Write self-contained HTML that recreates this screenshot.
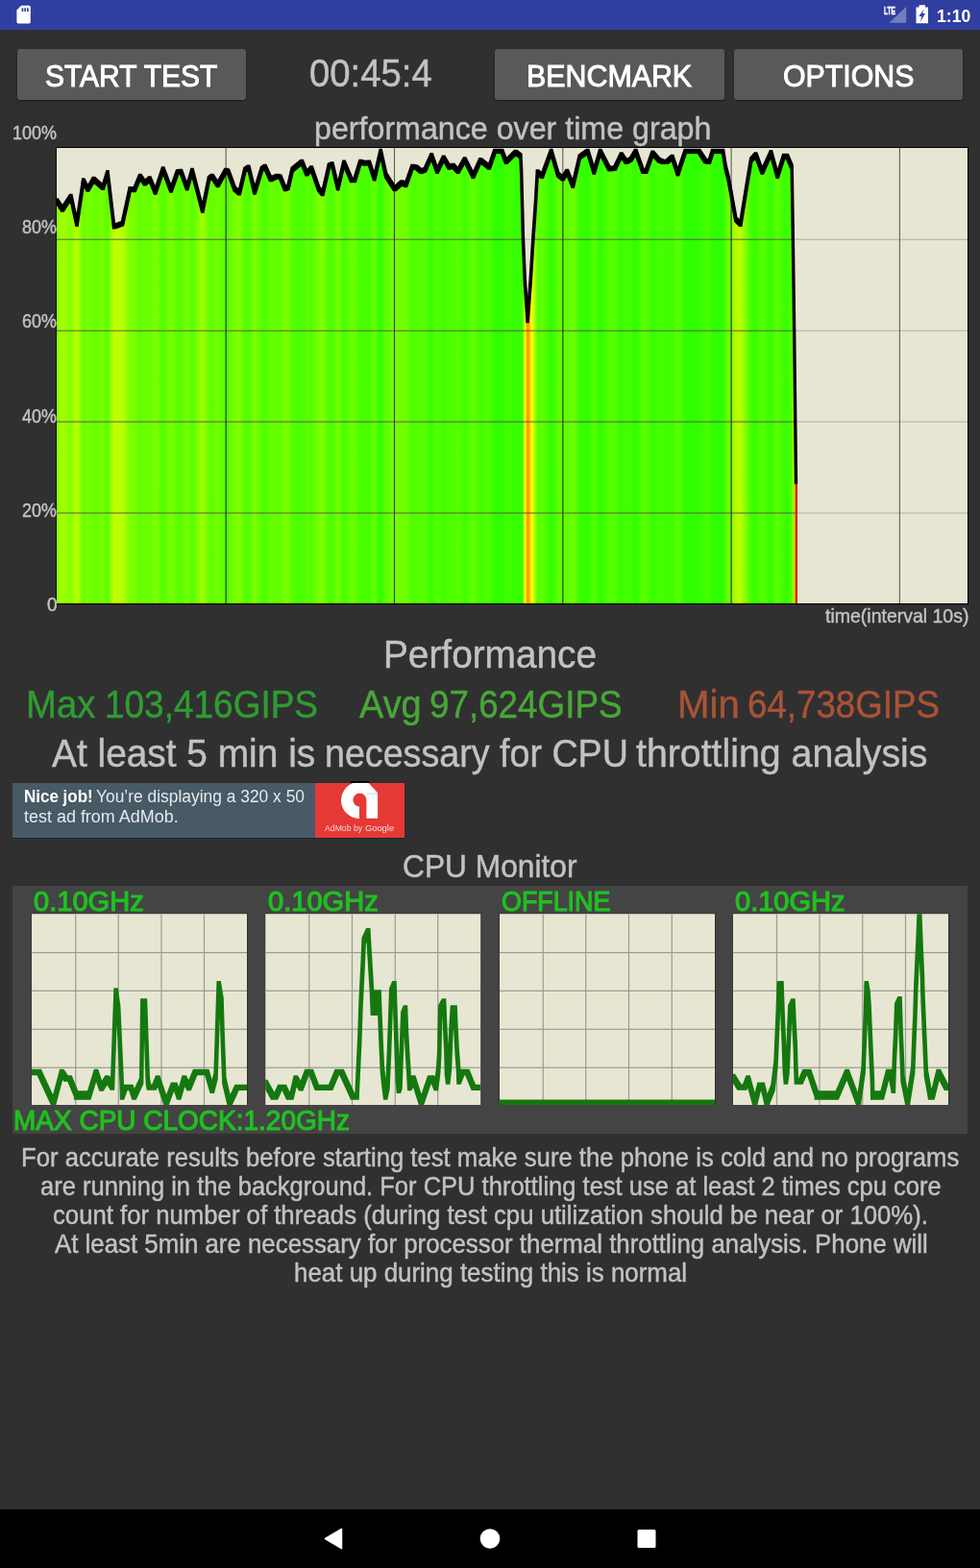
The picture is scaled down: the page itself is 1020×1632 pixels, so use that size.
<!DOCTYPE html>
<html lang="en"><head><meta charset="utf-8"><title>CPU Throttling Test</title>
<style>
html,body{margin:0;padding:0;}
body{width:1020px;height:1632px;background:#303030;position:relative;overflow:hidden;font-family:"Liberation Sans",sans-serif;}
.t{position:absolute;white-space:nowrap;line-height:1;transform-origin:0 0;}
.r{position:absolute;}
</style></head><body>
<div class="r" style="left:0px;top:0px;width:1020px;height:31px;background:#303f9f;"></div>
<svg class="r" style="left:17px;top:5px" width="16" height="21" viewBox="0 0 16 21"><path d="M5.2 0.8 H13 Q14.8 0.8 14.8 2.6 V17.8 Q14.8 19.6 13 19.6 H2.2 Q0.4 19.6 0.4 17.8 V5.6 Z" fill="#fff"/><rect x="5.6" y="3.3" width="1.7" height="3.8" fill="#303f9f"/><rect x="8.3" y="3.3" width="1.7" height="3.8" fill="#303f9f"/><rect x="11" y="3.3" width="1.7" height="3.8" fill="#303f9f"/></svg>
<svg class="r" style="left:918px;top:4px" width="30" height="22" viewBox="918 4 30 22"><path d="M943.2 7.1 V23.8 H925.4 Z" fill="#ffffff" fill-opacity="0.33"/></svg>
<div class="t" style="left:920.21px;top:5.73px;font-size:10.6px;color:#fff;transform:scaleX(0.6259);font-weight:700;-webkit-text-stroke:0.4px #fff;">LTE</div>
<svg class="r" style="left:950px;top:4px" width="20" height="22" viewBox="950 4 20 22"><path d="M956.6 5.3 H963 V7.6 H966 V24.2 H953.5 V7.6 H956.6 Z" fill="#fff"/><path d="M961.6 9.6 L956.4 17 H959.3 L958 22.8 L963 14 H960.2 Z" fill="#303f9f"/></svg>
<div class="t" style="left:974.73px;top:7.54px;font-size:18.5px;color:#fff;transform:scaleX(0.9532);font-weight:700;">1:10</div>
<div class="r" style="left:18px;top:51px;width:238.2px;height:53px;background:#5a595a;border-radius:3px;box-shadow:0 1px 2px rgba(0,0,0,.45);"></div>
<div class="t" style="left:47.41px;top:62.91px;font-size:32px;color:#fff;transform:scaleX(0.9362);-webkit-text-stroke:1.0px #fff;">START TEST</div>
<div class="r" style="left:515.1px;top:51px;width:238.5px;height:53px;background:#5a595a;border-radius:3px;box-shadow:0 1px 2px rgba(0,0,0,.45);"></div>
<div class="t" style="left:548.11px;top:62.91px;font-size:32px;color:#fff;transform:scaleX(0.9491);-webkit-text-stroke:1.0px #fff;">BENCMARK</div>
<div class="r" style="left:763.8px;top:51px;width:238.20000000000005px;height:53px;background:#5a595a;border-radius:3px;box-shadow:0 1px 2px rgba(0,0,0,.45);"></div>
<div class="t" style="left:815.08px;top:62.91px;font-size:32px;color:#fff;transform:scaleX(0.9475);-webkit-text-stroke:1.0px #fff;">OPTIONS</div>
<div class="t" style="left:322.17px;top:56.34px;font-size:40.0px;color:#c2c2c2;transform:scaleX(0.9566);-webkit-text-stroke:0.45px #c2c2c2;">00:45:4</div>
<div class="t" style="left:326.75px;top:117.03px;font-size:33.4px;color:#c2c2c2;transform:scaleX(0.9642);-webkit-text-stroke:0.45px #c2c2c2;">performance over time graph</div>
<svg class="r" style="left:0;top:0" width="1020" height="700" viewBox="0 0 1020 700"><defs><linearGradient id="pg" gradientUnits="userSpaceOnUse" x1="59" y1="0" x2="1007" y2="0"><stop offset="0.00021" stop-color="#8fff00"/><stop offset="0.00633" stop-color="#a0ff00"/><stop offset="0.01561" stop-color="#87ff00"/><stop offset="0.02215" stop-color="#bcff00"/><stop offset="0.02922" stop-color="#69ff00"/><stop offset="0.03418" stop-color="#7aff00"/><stop offset="0.04061" stop-color="#67ff00"/><stop offset="0.05084" stop-color="#77ff00"/><stop offset="0.05591" stop-color="#5aff00"/><stop offset="0.06287" stop-color="#c0ff00"/><stop offset="0.07226" stop-color="#baff00"/><stop offset="0.08049" stop-color="#79ff00"/><stop offset="0.08544" stop-color="#7bff00"/><stop offset="0.09156" stop-color="#61ff00"/><stop offset="0.09684" stop-color="#6eff00"/><stop offset="0.10211" stop-color="#65ff00"/><stop offset="0.10833" stop-color="#7fff00"/><stop offset="0.11677" stop-color="#53ff00"/><stop offset="0.12553" stop-color="#7bff00"/><stop offset="0.13259" stop-color="#59ff00"/><stop offset="0.13639" stop-color="#58ff00"/><stop offset="0.14314" stop-color="#77ff00"/><stop offset="0.14873" stop-color="#56ff00"/><stop offset="0.16013" stop-color="#a2ff00"/><stop offset="0.16719" stop-color="#65ff00"/><stop offset="0.17068" stop-color="#61ff00"/><stop offset="0.17690" stop-color="#71ff00"/><stop offset="0.18565" stop-color="#56ff00"/><stop offset="0.18829" stop-color="#58ff00"/><stop offset="0.19536" stop-color="#79ff00"/><stop offset="0.20063" stop-color="#81ff00"/><stop offset="0.20675" stop-color="#55ff00"/><stop offset="0.21076" stop-color="#50ff00"/><stop offset="0.21730" stop-color="#7fff00"/><stop offset="0.22521" stop-color="#53ff00"/><stop offset="0.22869" stop-color="#4fff00"/><stop offset="0.23492" stop-color="#67ff00"/><stop offset="0.24188" stop-color="#61ff00"/><stop offset="0.24546" stop-color="#62ff00"/><stop offset="0.25074" stop-color="#79ff00"/><stop offset="0.25422" stop-color="#76ff00"/><stop offset="0.25865" stop-color="#55ff00"/><stop offset="0.26920" stop-color="#45ff00"/><stop offset="0.27447" stop-color="#5cff00"/><stop offset="0.27975" stop-color="#52ff00"/><stop offset="0.28766" stop-color="#79ff00"/><stop offset="0.29198" stop-color="#82ff00"/><stop offset="0.29905" stop-color="#4dff00"/><stop offset="0.30253" stop-color="#4aff00"/><stop offset="0.30876" stop-color="#77ff00"/><stop offset="0.31540" stop-color="#47ff00"/><stop offset="0.32363" stop-color="#68ff00"/><stop offset="0.32722" stop-color="#68ff00"/><stop offset="0.33333" stop-color="#45ff00"/><stop offset="0.33861" stop-color="#49ff00"/><stop offset="0.34304" stop-color="#47ff00"/><stop offset="0.34884" stop-color="#65ff00"/><stop offset="0.35570" stop-color="#2fff00"/><stop offset="0.36150" stop-color="#5fff00"/><stop offset="0.37110" stop-color="#79ff00"/><stop offset="0.37901" stop-color="#6dff00"/><stop offset="0.38344" stop-color="#71ff00"/><stop offset="0.39051" stop-color="#4fff00"/><stop offset="0.39483" stop-color="#50ff00"/><stop offset="0.40011" stop-color="#58ff00"/><stop offset="0.40454" stop-color="#55ff00"/><stop offset="0.41160" stop-color="#39ff00"/><stop offset="0.41772" stop-color="#58ff00"/><stop offset="0.42479" stop-color="#3eff00"/><stop offset="0.43091" stop-color="#50ff00"/><stop offset="0.43534" stop-color="#4dff00"/><stop offset="0.44061" stop-color="#58ff00"/><stop offset="0.44800" stop-color="#41ff00"/><stop offset="0.45728" stop-color="#61ff00"/><stop offset="0.46519" stop-color="#43ff00"/><stop offset="0.47489" stop-color="#50ff00"/><stop offset="0.48101" stop-color="#2eff00"/><stop offset="0.48892" stop-color="#2eff00"/><stop offset="0.49335" stop-color="#45ff00"/><stop offset="0.50390" stop-color="#33ff00"/><stop offset="0.50939" stop-color="#3bff00"/><stop offset="0.51150" stop-color="#3eff00"/><stop offset="0.51424" stop-color="#ffff00"/><stop offset="0.51730" stop-color="#ff8c00"/><stop offset="0.52152" stop-color="#ffff00"/><stop offset="0.52426" stop-color="#c0ff00"/><stop offset="0.52774" stop-color="#59ff00"/><stop offset="0.53291" stop-color="#61ff00"/><stop offset="0.54293" stop-color="#2fff00"/><stop offset="0.55042" stop-color="#5eff00"/><stop offset="0.55570" stop-color="#65ff00"/><stop offset="0.56044" stop-color="#58ff00"/><stop offset="0.56677" stop-color="#73ff00"/><stop offset="0.57416" stop-color="#3cff00"/><stop offset="0.58302" stop-color="#2fff00"/><stop offset="0.58998" stop-color="#59ff00"/><stop offset="0.59673" stop-color="#2fff00"/><stop offset="0.60675" stop-color="#53ff00"/><stop offset="0.61287" stop-color="#52ff00"/><stop offset="0.61994" stop-color="#38ff00"/><stop offset="0.62521" stop-color="#45ff00"/><stop offset="0.63049" stop-color="#41ff00"/><stop offset="0.63576" stop-color="#2fff00"/><stop offset="0.64367" stop-color="#58ff00"/><stop offset="0.64715" stop-color="#58ff00"/><stop offset="0.65422" stop-color="#35ff00"/><stop offset="0.66118" stop-color="#43ff00"/><stop offset="0.66561" stop-color="#45ff00"/><stop offset="0.67004" stop-color="#45ff00"/><stop offset="0.67584" stop-color="#3cff00"/><stop offset="0.68196" stop-color="#5cff00"/><stop offset="0.69019" stop-color="#2fff00"/><stop offset="0.70517" stop-color="#2fff00"/><stop offset="0.71224" stop-color="#44ff00"/><stop offset="0.71656" stop-color="#45ff00"/><stop offset="0.72015" stop-color="#2fff00"/><stop offset="0.73154" stop-color="#2fff00"/><stop offset="0.73418" stop-color="#4fff00"/><stop offset="0.73766" stop-color="#67ff00"/><stop offset="0.74557" stop-color="#b2ff00"/><stop offset="0.75084" stop-color="#bcff00"/><stop offset="0.75707" stop-color="#79ff00"/><stop offset="0.76234" stop-color="#43ff00"/><stop offset="0.76762" stop-color="#38ff00"/><stop offset="0.77458" stop-color="#59ff00"/><stop offset="0.78428" stop-color="#34ff00"/><stop offset="0.79135" stop-color="#61ff00"/><stop offset="0.79831" stop-color="#3bff00"/><stop offset="0.80190" stop-color="#3bff00"/><stop offset="0.80717" stop-color="#50ff00"/><stop offset="0.80823" stop-color="#c5ff00"/><stop offset="0.80928" stop-color="#3eff00"/><stop offset="0.81013" stop-color="#ffff00"/><stop offset="0.81097" stop-color="#ff5a00"/><stop offset="0.81150" stop-color="#ee1410"/><stop offset="0.81329" stop-color="#ee1410"/></linearGradient><clipPath id="pc"><rect x="59" y="154" width="948" height="474"/></clipPath></defs><rect x="58.3" y="153.0" width="949.7" height="476.1" fill="#000"/><rect x="59" y="154" width="948" height="474" fill="#e7e6d2"/><g clip-path="url(#pc)"><path d="M59,628 L59,209 L59.2,209.0 L65.0,218.0 L73.8,204.5 L80.0,233.3 L86.7,188.0 L91.4,197.2 L97.5,186.5 L107.2,195.4 L112.0,179.6 L118.6,235.9 L127.5,232.6 L135.3,196.7 L140.0,197.5 L145.8,183.3 L150.8,190.8 L155.8,185.8 L161.7,200.0 L169.7,175.8 L178.0,198.0 L184.7,179.0 L188.3,178.3 L194.7,195.8 L200.0,177.5 L210.8,219.2 L217.5,185.8 L220.8,183.3 L226.7,192.5 L235.0,177.5 L237.5,178.3 L244.2,196.7 L249.2,200.8 L255.0,176.7 L258.8,174.2 L265.0,200.0 L272.5,175.8 L275.8,173.3 L281.7,186.7 L288.3,183.3 L291.7,184.2 L296.7,196.7 L300.0,195.0 L304.2,176.7 L314.2,168.3 L319.2,180.8 L324.2,175.0 L331.7,196.7 L335.8,201.7 L342.5,172.5 L345.8,170.8 L351.7,195.8 L358.0,169.2 L365.8,187.5 L369.2,187.5 L375.0,168.3 L380.0,170.0 L384.2,169.2 L389.7,185.8 L396.2,155.8 L401.7,182.5 L410.8,196.7 L418.3,190.0 L422.5,192.5 L429.2,173.3 L433.3,174.2 L438.3,178.3 L442.5,176.7 L449.2,161.7 L455.0,178.3 L461.7,164.2 L467.5,174.2 L471.7,172.5 L476.7,178.3 L483.7,165.8 L492.5,183.3 L500.0,166.7 L509.2,174.2 L515.0,155.5 L522.5,155.5 L526.7,168.3 L536.7,158.3 L541.9,162.5 L542.7,180.0 L544.5,250.0 L546.3,293.0 L549.1,333.6 L552.2,293.0 L554.8,250.0 L557.5,211.0 L559.3,179.0 L564.2,183.3 L573.7,155.8 L580.8,181.7 L585.8,185.8 L590.3,178.3 L596.3,193.3 L603.3,163.3 L611.7,155.8 L618.3,179.2 L624.7,155.8 L634.2,175.8 L640.0,175.0 L646.7,160.8 L651.7,168.3 L656.7,165.8 L661.7,155.8 L669.2,178.3 L672.5,178.3 L679.2,159.2 L685.8,166.7 L690.0,168.3 L694.2,168.3 L699.7,163.3 L705.5,180.8 L713.3,155.8 L727.5,155.8 L734.2,167.5 L738.3,168.3 L741.7,155.8 L752.5,155.8 L755.0,173.3 L758.3,186.7 L765.8,228.3 L770.8,233.3 L776.7,196.7 L781.7,166.7 L786.7,160.8 L793.3,179.2 L802.5,158.7 L809.2,183.3 L815.8,162.5 L819.2,162.5 L824.2,174.2 L825.2,238.3 L826.7,350.0 L828.5,501.0 L830,503.5 L830,628 Z" fill="url(#pg)"/><clipPath id="pa"><path d="M59,628 L59,209 L59.2,209.0 L65.0,218.0 L73.8,204.5 L80.0,233.3 L86.7,188.0 L91.4,197.2 L97.5,186.5 L107.2,195.4 L112.0,179.6 L118.6,235.9 L127.5,232.6 L135.3,196.7 L140.0,197.5 L145.8,183.3 L150.8,190.8 L155.8,185.8 L161.7,200.0 L169.7,175.8 L178.0,198.0 L184.7,179.0 L188.3,178.3 L194.7,195.8 L200.0,177.5 L210.8,219.2 L217.5,185.8 L220.8,183.3 L226.7,192.5 L235.0,177.5 L237.5,178.3 L244.2,196.7 L249.2,200.8 L255.0,176.7 L258.8,174.2 L265.0,200.0 L272.5,175.8 L275.8,173.3 L281.7,186.7 L288.3,183.3 L291.7,184.2 L296.7,196.7 L300.0,195.0 L304.2,176.7 L314.2,168.3 L319.2,180.8 L324.2,175.0 L331.7,196.7 L335.8,201.7 L342.5,172.5 L345.8,170.8 L351.7,195.8 L358.0,169.2 L365.8,187.5 L369.2,187.5 L375.0,168.3 L380.0,170.0 L384.2,169.2 L389.7,185.8 L396.2,155.8 L401.7,182.5 L410.8,196.7 L418.3,190.0 L422.5,192.5 L429.2,173.3 L433.3,174.2 L438.3,178.3 L442.5,176.7 L449.2,161.7 L455.0,178.3 L461.7,164.2 L467.5,174.2 L471.7,172.5 L476.7,178.3 L483.7,165.8 L492.5,183.3 L500.0,166.7 L509.2,174.2 L515.0,155.5 L522.5,155.5 L526.7,168.3 L536.7,158.3 L541.9,162.5 L542.7,180.0 L544.5,250.0 L546.3,293.0 L549.1,333.6 L552.2,293.0 L554.8,250.0 L557.5,211.0 L559.3,179.0 L564.2,183.3 L573.7,155.8 L580.8,181.7 L585.8,185.8 L590.3,178.3 L596.3,193.3 L603.3,163.3 L611.7,155.8 L618.3,179.2 L624.7,155.8 L634.2,175.8 L640.0,175.0 L646.7,160.8 L651.7,168.3 L656.7,165.8 L661.7,155.8 L669.2,178.3 L672.5,178.3 L679.2,159.2 L685.8,166.7 L690.0,168.3 L694.2,168.3 L699.7,163.3 L705.5,180.8 L713.3,155.8 L727.5,155.8 L734.2,167.5 L738.3,168.3 L741.7,155.8 L752.5,155.8 L755.0,173.3 L758.3,186.7 L765.8,228.3 L770.8,233.3 L776.7,196.7 L781.7,166.7 L786.7,160.8 L793.3,179.2 L802.5,158.7 L809.2,183.3 L815.8,162.5 L819.2,162.5 L824.2,174.2 L825.2,238.3 L826.7,350.0 L828.5,501.0 L830,503.5 L830,628 Z"/></clipPath><rect x="59" y="248.65" width="948" height="1.3" fill="#808080" fill-opacity="0.42"/><rect x="59" y="343.65000000000003" width="948" height="1.3" fill="#808080" fill-opacity="0.42"/><rect x="59" y="438.35" width="948" height="1.3" fill="#808080" fill-opacity="0.42"/><rect x="59" y="533.35" width="948" height="1.3" fill="#808080" fill-opacity="0.42"/><rect x="234.64999999999998" y="154" width="1.1" height="474" fill="#303030" fill-opacity="0.74"/><rect x="409.95" y="154" width="1.1" height="474" fill="#303030" fill-opacity="0.74"/><rect x="585.25" y="154" width="1.1" height="474" fill="#303030" fill-opacity="0.74"/><rect x="760.5500000000001" y="154" width="1.1" height="474" fill="#303030" fill-opacity="0.74"/><rect x="935.85" y="154" width="1.1" height="474" fill="#303030" fill-opacity="0.74"/><g clip-path="url(#pa)"><rect x="59" y="248.65" width="948" height="1.3" fill="#4a3a40" fill-opacity="0.45"/><rect x="59" y="343.65000000000003" width="948" height="1.3" fill="#4a3a40" fill-opacity="0.45"/><rect x="59" y="438.35" width="948" height="1.3" fill="#4a3a40" fill-opacity="0.45"/><rect x="59" y="533.35" width="948" height="1.3" fill="#4a3a40" fill-opacity="0.45"/><rect x="234.64999999999998" y="154" width="1.1" height="474" fill="#303030" fill-opacity="0.5"/><rect x="409.95" y="154" width="1.1" height="474" fill="#303030" fill-opacity="0.5"/><rect x="585.25" y="154" width="1.1" height="474" fill="#303030" fill-opacity="0.5"/><rect x="760.5500000000001" y="154" width="1.1" height="474" fill="#303030" fill-opacity="0.5"/><rect x="935.85" y="154" width="1.1" height="474" fill="#303030" fill-opacity="0.5"/></g><path d="M57.55,206.35 60.85,206.35 66.65,215.35 66.65,220.65 63.35,220.65 57.55,211.65ZM63.35,215.35 72.15,201.85 75.45,201.85 75.45,207.15 66.65,220.65 63.35,220.65ZM72.15,201.85 75.45,201.85 81.65,230.65 81.65,235.95 78.35,235.95 72.15,207.15ZM78.35,230.65 85.05,185.35 88.35,185.35 88.35,190.65 81.65,235.95 78.35,235.95ZM85.05,185.35 88.35,185.35 93.05,194.55 93.05,199.85 89.75,199.85 85.05,190.65ZM89.75,194.55 95.85,183.85 99.15,183.85 99.15,189.15 93.05,199.85 89.75,199.85ZM95.85,183.85 99.15,183.85 108.85,192.75 108.85,198.05 105.55,198.05 95.85,189.15ZM105.55,192.75 110.35,176.95 113.65,176.95 113.65,182.25 108.85,198.05 105.55,198.05ZM110.35,176.95 113.65,176.95 120.25,233.25 120.25,238.55 116.95,238.55 110.35,182.25ZM116.95,233.25 125.85,229.95 129.15,229.95 129.15,235.25 120.25,238.55 116.95,238.55ZM125.85,229.95 133.65,194.05 136.95,194.05 136.95,199.35 129.15,235.25 125.85,235.25ZM133.65,194.05 136.95,194.05 141.65,194.85 141.65,200.15 138.35,200.15 133.65,199.35ZM138.35,194.85 144.15,180.65 147.45,180.65 147.45,185.95 141.65,200.15 138.35,200.15ZM144.15,180.65 147.45,180.65 152.45,188.15 152.45,193.45 149.15,193.45 144.15,185.95ZM149.15,188.15 154.15,183.15 157.45,183.15 157.45,188.45 152.45,193.45 149.15,193.45ZM154.15,183.15 157.45,183.15 163.35,197.35 163.35,202.65 160.05,202.65 154.15,188.45ZM160.05,197.35 168.05,173.15 171.35,173.15 171.35,178.45 163.35,202.65 160.05,202.65ZM168.05,173.15 171.35,173.15 179.65,195.35 179.65,200.65 176.35,200.65 168.05,178.45ZM176.35,195.35 183.05,176.35 186.35,176.35 186.35,181.65 179.65,200.65 176.35,200.65ZM183.05,176.35 186.65,175.65 189.95,175.65 189.95,180.95 186.35,181.65 183.05,181.65ZM186.65,175.65 189.95,175.65 196.35,193.15 196.35,198.45 193.05,198.45 186.65,180.95ZM193.05,193.15 198.35,174.85 201.65,174.85 201.65,180.15 196.35,198.45 193.05,198.45ZM198.35,174.85 201.65,174.85 212.45,216.55 212.45,221.85 209.15,221.85 198.35,180.15ZM209.15,216.55 215.85,183.15 219.15,183.15 219.15,188.45 212.45,221.85 209.15,221.85ZM215.85,183.15 219.15,180.65 222.45,180.65 222.45,185.95 219.15,188.45 215.85,188.45ZM219.15,180.65 222.45,180.65 228.35,189.85 228.35,195.15 225.05,195.15 219.15,185.95ZM225.05,189.85 233.35,174.85 236.65,174.85 236.65,180.15 228.35,195.15 225.05,195.15ZM233.35,174.85 236.65,174.85 239.15,175.65 239.15,180.95 235.85,180.95 233.35,180.15ZM235.85,175.65 239.15,175.65 245.85,194.05 245.85,199.35 242.55,199.35 235.85,180.95ZM242.55,194.05 245.85,194.05 250.85,198.15 250.85,203.45 247.55,203.45 242.55,199.35ZM247.55,198.15 253.35,174.05 256.65,174.05 256.65,179.35 250.85,203.45 247.55,203.45ZM253.35,174.05 257.15,171.55 260.45,171.55 260.45,176.85 256.65,179.35 253.35,179.35ZM257.15,171.55 260.45,171.55 266.65,197.35 266.65,202.65 263.35,202.65 257.15,176.85ZM263.35,197.35 270.85,173.15 274.15,173.15 274.15,178.45 266.65,202.65 263.35,202.65ZM270.85,173.15 274.15,170.65 277.45,170.65 277.45,175.95 274.15,178.45 270.85,178.45ZM274.15,170.65 277.45,170.65 283.35,184.05 283.35,189.35 280.05,189.35 274.15,175.95ZM280.05,184.05 286.65,180.65 289.95,180.65 289.95,185.95 283.35,189.35 280.05,189.35ZM286.65,180.65 289.95,180.65 293.35,181.55 293.35,186.85 290.05,186.85 286.65,185.95ZM290.05,181.55 293.35,181.55 298.35,194.05 298.35,199.35 295.05,199.35 290.05,186.85ZM295.05,194.05 298.35,192.35 301.65,192.35 301.65,197.65 298.35,199.35 295.05,199.35ZM298.35,192.35 302.55,174.05 305.85,174.05 305.85,179.35 301.65,197.65 298.35,197.65ZM302.55,174.05 312.55,165.65 315.85,165.65 315.85,170.95 305.85,179.35 302.55,179.35ZM312.55,165.65 315.85,165.65 320.85,178.15 320.85,183.45 317.55,183.45 312.55,170.95ZM317.55,178.15 322.55,172.35 325.85,172.35 325.85,177.65 320.85,183.45 317.55,183.45ZM322.55,172.35 325.85,172.35 333.35,194.05 333.35,199.35 330.05,199.35 322.55,177.65ZM330.05,194.05 333.35,194.05 337.45,199.05 337.45,204.35 334.15,204.35 330.05,199.35ZM334.15,199.05 340.85,169.85 344.15,169.85 344.15,175.15 337.45,204.35 334.15,204.35ZM340.85,169.85 344.15,168.15 347.45,168.15 347.45,173.45 344.15,175.15 340.85,175.15ZM344.15,168.15 347.45,168.15 353.35,193.15 353.35,198.45 350.05,198.45 344.15,173.45ZM350.05,193.15 356.35,166.55 359.65,166.55 359.65,171.85 353.35,198.45 350.05,198.45ZM356.35,166.55 359.65,166.55 367.45,184.85 367.45,190.15 364.15,190.15 356.35,171.85ZM364.15,184.85 370.85,184.85 370.85,190.15 364.15,190.15ZM367.55,184.85 373.35,165.65 376.65,165.65 376.65,170.95 370.85,190.15 367.55,190.15ZM373.35,165.65 376.65,165.65 381.65,167.35 381.65,172.65 378.35,172.65 373.35,170.95ZM378.35,167.35 382.55,166.55 385.85,166.55 385.85,171.85 381.65,172.65 378.35,172.65ZM382.55,166.55 385.85,166.55 391.35,183.15 391.35,188.45 388.05,188.45 382.55,171.85ZM388.05,183.15 394.55,154.65 397.85,154.65 397.85,159.95 391.35,188.45 388.05,188.45ZM394.55,154.65 397.85,154.65 403.35,179.85 403.35,185.15 400.05,185.15 394.55,159.95ZM400.05,179.85 403.35,179.85 412.45,194.05 412.45,199.35 409.15,199.35 400.05,185.15ZM409.15,194.05 416.65,187.35 419.95,187.35 419.95,192.65 412.45,199.35 409.15,199.35ZM416.65,187.35 419.95,187.35 424.15,189.85 424.15,195.15 420.85,195.15 416.65,192.65ZM420.85,189.85 427.55,170.65 430.85,170.65 430.85,175.95 424.15,195.15 420.85,195.15ZM427.55,170.65 430.85,170.65 434.95,171.55 434.95,176.85 431.65,176.85 427.55,175.95ZM431.65,171.55 434.95,171.55 439.95,175.65 439.95,180.95 436.65,180.95 431.65,176.85ZM436.65,175.65 440.85,174.05 444.15,174.05 444.15,179.35 439.95,180.95 436.65,180.95ZM440.85,174.05 447.55,159.05 450.85,159.05 450.85,164.35 444.15,179.35 440.85,179.35ZM447.55,159.05 450.85,159.05 456.65,175.65 456.65,180.95 453.35,180.95 447.55,164.35ZM453.35,175.65 460.05,161.55 463.35,161.55 463.35,166.85 456.65,180.95 453.35,180.95ZM460.05,161.55 463.35,161.55 469.15,171.55 469.15,176.85 465.85,176.85 460.05,166.85ZM465.85,171.55 470.05,169.85 473.35,169.85 473.35,175.15 469.15,176.85 465.85,176.85ZM470.05,169.85 473.35,169.85 478.35,175.65 478.35,180.95 475.05,180.95 470.05,175.15ZM475.05,175.65 482.05,163.15 485.35,163.15 485.35,168.45 478.35,180.95 475.05,180.95ZM482.05,163.15 485.35,163.15 494.15,180.65 494.15,185.95 490.85,185.95 482.05,168.45ZM490.85,180.65 498.35,164.05 501.65,164.05 501.65,169.35 494.15,185.95 490.85,185.95ZM498.35,164.05 501.65,164.05 510.85,171.55 510.85,176.85 507.55,176.85 498.35,169.35ZM507.55,171.55 513.35,154.65 516.65,154.65 516.65,159.95 510.85,176.85 507.55,176.85ZM513.35,154.65 524.15,154.65 524.15,159.95 513.35,159.95ZM520.85,154.65 524.15,154.65 528.35,165.65 528.35,170.95 525.05,170.95 520.85,159.95ZM525.05,165.65 535.05,155.65 538.35,155.65 538.35,160.95 528.35,170.95 525.05,170.95ZM535.05,155.65 538.35,155.65 543.55,159.85 543.55,165.15 540.25,165.15 535.05,160.95ZM540.25,159.85 543.55,159.85 544.35,177.35 544.35,182.65 541.05,182.65 540.25,165.15ZM541.05,177.35 544.35,177.35 546.15,247.35 546.15,252.65 542.85,252.65 541.05,182.65ZM542.85,247.35 546.15,247.35 547.95,290.35 547.95,295.65 544.65,295.65 542.85,252.65ZM544.65,290.35 547.95,290.35 550.75,330.95 550.75,336.25 547.45,336.25 544.65,295.65ZM547.45,330.95 550.55,290.35 553.85,290.35 553.85,295.65 550.75,336.25 547.45,336.25ZM550.55,290.35 553.15,247.35 556.45,247.35 556.45,252.65 553.85,295.65 550.55,295.65ZM553.15,247.35 555.85,208.35 559.15,208.35 559.15,213.65 556.45,252.65 553.15,252.65ZM555.85,208.35 557.65,176.35 560.95,176.35 560.95,181.65 559.15,213.65 555.85,213.65ZM557.65,176.35 560.95,176.35 565.85,180.65 565.85,185.95 562.55,185.95 557.65,181.65ZM562.55,180.65 572.05,154.65 575.35,154.65 575.35,159.95 565.85,185.95 562.55,185.95ZM572.05,154.65 575.35,154.65 582.45,179.05 582.45,184.35 579.15,184.35 572.05,159.95ZM579.15,179.05 582.45,179.05 587.45,183.15 587.45,188.45 584.15,188.45 579.15,184.35ZM584.15,183.15 588.65,175.65 591.95,175.65 591.95,180.95 587.45,188.45 584.15,188.45ZM588.65,175.65 591.95,175.65 597.95,190.65 597.95,195.95 594.65,195.95 588.65,180.95ZM594.65,190.65 601.65,160.65 604.95,160.65 604.95,165.95 597.95,195.95 594.65,195.95ZM601.65,160.65 610.05,154.65 613.35,154.65 613.35,159.95 604.95,165.95 601.65,165.95ZM610.05,154.65 613.35,154.65 619.95,176.55 619.95,181.85 616.65,181.85 610.05,159.95ZM616.65,176.55 623.05,154.65 626.35,154.65 626.35,159.95 619.95,181.85 616.65,181.85ZM623.05,154.65 626.35,154.65 635.85,173.15 635.85,178.45 632.55,178.45 623.05,159.95ZM632.55,173.15 638.35,172.35 641.65,172.35 641.65,177.65 635.85,178.45 632.55,178.45ZM638.35,172.35 645.05,158.15 648.35,158.15 648.35,163.45 641.65,177.65 638.35,177.65ZM645.05,158.15 648.35,158.15 653.35,165.65 653.35,170.95 650.05,170.95 645.05,163.45ZM650.05,165.65 655.05,163.15 658.35,163.15 658.35,168.45 653.35,170.95 650.05,170.95ZM655.05,163.15 660.05,154.65 663.35,154.65 663.35,159.95 658.35,168.45 655.05,168.45ZM660.05,154.65 663.35,154.65 670.85,175.65 670.85,180.95 667.55,180.95 660.05,159.95ZM667.55,175.65 674.15,175.65 674.15,180.95 667.55,180.95ZM670.85,175.65 677.55,156.55 680.85,156.55 680.85,161.85 674.15,180.95 670.85,180.95ZM677.55,156.55 680.85,156.55 687.45,164.05 687.45,169.35 684.15,169.35 677.55,161.85ZM684.15,164.05 687.45,164.05 691.65,165.65 691.65,170.95 688.35,170.95 684.15,169.35ZM688.35,165.65 695.85,165.65 695.85,170.95 688.35,170.95ZM692.55,165.65 698.05,160.65 701.35,160.65 701.35,165.95 695.85,170.95 692.55,170.95ZM698.05,160.65 701.35,160.65 707.15,178.15 707.15,183.45 703.85,183.45 698.05,165.95ZM703.85,178.15 711.65,154.65 714.95,154.65 714.95,159.95 707.15,183.45 703.85,183.45ZM711.65,154.65 729.15,154.65 729.15,159.95 711.65,159.95ZM725.85,154.65 729.15,154.65 735.85,164.85 735.85,170.15 732.55,170.15 725.85,159.95ZM732.55,164.85 735.85,164.85 739.95,165.65 739.95,170.95 736.65,170.95 732.55,170.15ZM736.65,165.65 740.05,154.65 743.35,154.65 743.35,159.95 739.95,170.95 736.65,170.95ZM740.05,154.65 754.15,154.65 754.15,159.95 740.05,159.95ZM750.85,154.65 754.15,154.65 756.65,170.65 756.65,175.95 753.35,175.95 750.85,159.95ZM753.35,170.65 756.65,170.65 759.95,184.05 759.95,189.35 756.65,189.35 753.35,175.95ZM756.65,184.05 759.95,184.05 767.45,225.65 767.45,230.95 764.15,230.95 756.65,189.35ZM764.15,225.65 767.45,225.65 772.45,230.65 772.45,235.95 769.15,235.95 764.15,230.95ZM769.15,230.65 775.05,194.05 778.35,194.05 778.35,199.35 772.45,235.95 769.15,235.95ZM775.05,194.05 780.05,164.05 783.35,164.05 783.35,169.35 778.35,199.35 775.05,199.35ZM780.05,164.05 785.05,158.15 788.35,158.15 788.35,163.45 783.35,169.35 780.05,169.35ZM785.05,158.15 788.35,158.15 794.95,176.55 794.95,181.85 791.65,181.85 785.05,163.45ZM791.65,176.55 800.85,156.05 804.15,156.05 804.15,161.35 794.95,181.85 791.65,181.85ZM800.85,156.05 804.15,156.05 810.85,180.65 810.85,185.95 807.55,185.95 800.85,161.35ZM807.55,180.65 814.15,159.85 817.45,159.85 817.45,165.15 810.85,185.95 807.55,185.95ZM814.15,159.85 820.85,159.85 820.85,165.15 814.15,165.15ZM817.55,159.85 820.85,159.85 825.85,171.55 825.85,176.85 822.55,176.85 817.55,165.15ZM822.55,171.55 825.85,171.55 826.85,235.65 826.85,240.95 823.55,240.95 822.55,176.85ZM823.55,235.65 826.85,235.65 828.35,347.35 828.35,352.65 825.05,352.65 823.55,240.95ZM825.05,347.35 828.35,347.35 830.15,498.35 830.15,503.65 826.85,503.65 825.05,352.65Z" fill="#000"/></g></svg>
<div class="t" style="left:13.32px;top:127.55px;font-size:20.5px;color:#c2c2c2;transform:scaleX(0.8750);-webkit-text-stroke:0.45px #c2c2c2;">100%</div>
<div class="t" style="left:23.38px;top:226.05px;font-size:20.5px;color:#c2c2c2;transform:scaleX(0.8750);-webkit-text-stroke:0.45px #c2c2c2;">80%</div>
<div class="t" style="left:23.38px;top:324.45px;font-size:20.5px;color:#c2c2c2;transform:scaleX(0.8750);-webkit-text-stroke:0.45px #c2c2c2;">60%</div>
<div class="t" style="left:23.38px;top:422.75px;font-size:20.5px;color:#c2c2c2;transform:scaleX(0.8750);-webkit-text-stroke:0.45px #c2c2c2;">40%</div>
<div class="t" style="left:23.38px;top:521.05px;font-size:20.5px;color:#c2c2c2;transform:scaleX(0.8750);-webkit-text-stroke:0.45px #c2c2c2;">20%</div>
<div class="t" style="left:48.60px;top:618.95px;font-size:20.5px;color:#c2c2c2;transform:scaleX(0.9316);-webkit-text-stroke:0.45px #c2c2c2;">0</div>
<div class="t" style="left:858.56px;top:631.16px;font-size:20.6px;color:#c2c2c2;transform:scaleX(0.9462);-webkit-text-stroke:0.45px #c2c2c2;">time(interval 10s)</div>
<div class="t" style="left:398.65px;top:661.06px;font-size:40.1px;color:#c2c2c2;transform:scaleX(0.9677);-webkit-text-stroke:0.45px #c2c2c2;">Performance</div>
<div class="t" style="left:27.00px;top:712.96px;font-size:40.1px;color:#2f9c33;transform:scaleX(0.9553);-webkit-text-stroke:0.45px #2f9c33;">Max</div>
<div class="t" style="left:109.43px;top:712.96px;font-size:40.1px;color:#2f9c33;transform:scaleX(0.9224);-webkit-text-stroke:0.45px #2f9c33;">103,416GIPS</div>
<div class="t" style="left:374.30px;top:712.96px;font-size:40.1px;color:#49a738;transform:scaleX(0.9472);-webkit-text-stroke:0.45px #49a738;">Avg</div>
<div class="t" style="left:446.58px;top:712.96px;font-size:40.1px;color:#49a738;transform:scaleX(0.9181);-webkit-text-stroke:0.45px #49a738;">97,624GIPS</div>
<div class="t" style="left:704.54px;top:712.96px;font-size:40.1px;color:#a95336;transform:scaleX(1.0038);-webkit-text-stroke:0.45px #a95336;">Min</div>
<div class="t" style="left:778.17px;top:712.96px;font-size:40.1px;color:#a95336;transform:scaleX(0.9154);-webkit-text-stroke:0.45px #a95336;">64,738GIPS</div>
<div class="t" style="left:53.80px;top:763.96px;font-size:40.1px;color:#c2c2c2;transform:scaleX(0.9693);-webkit-text-stroke:0.45px #c2c2c2;">At least 5 min is</div>
<div class="t" style="left:337.83px;top:763.96px;font-size:40.1px;color:#c2c2c2;transform:scaleX(0.9392);-webkit-text-stroke:0.45px #c2c2c2;">necessary for CPU</div>
<div class="t" style="left:661.81px;top:763.96px;font-size:40.1px;color:#c2c2c2;transform:scaleX(0.9801);-webkit-text-stroke:0.45px #c2c2c2;">throttling analysis</div>
<div class="r" style="left:12.7px;top:814.6px;width:408.6px;height:58.4px;background:#0c2a2e;"></div>
<div class="r" style="left:12.7px;top:814.6px;width:315px;height:57.9px;background:#475a66;"></div>
<div class="r" style="left:327.7px;top:814.6px;width:93.1px;height:57.9px;background:#e53935;"></div>
<div class="t" style="left:24.59px;top:818.65px;font-size:19.2px;color:#fff;transform:scaleX(0.8856);font-weight:700;">Nice job!</div>
<div class="t" style="left:99.66px;top:818.65px;font-size:19.2px;color:#e6e9ec;transform:scaleX(0.9067);-webkit-text-stroke:0;">You’re displaying a 320 x 50</div>
<div class="t" style="left:24.77px;top:839.65px;font-size:19.2px;color:#e6e9ec;transform:scaleX(0.9357);-webkit-text-stroke:0;">test ad from AdMob.</div>
<svg class="r" style="left:327px;top:813px" width="95" height="61" viewBox="327 813 95 61"><path d="M374,851.9 A19,19 0 0 1 374,813.9 H382.8 L393.1,825.2 V851.7 H381.4 V832.6 A7,7 0 0 0 367.4,832.6 A7,7 0 0 0 374,839.6 V851.9 Z" fill="#fff"/><rect x="365" y="813" width="19.5" height="1.9" fill="#000"/><rect x="327" y="813" width="38" height="1.6" fill="#303030"/><rect x="384.5" y="813" width="38" height="1.6" fill="#303030"/><rect x="381.6" y="825.3" width="11.4" height="1.6" fill="#d5dadd" fill-opacity=".8"/></svg>
<div class="t" style="left:338.00px;top:857.27px;font-size:9.6px;color:#f9d3d2;transform:scaleX(0.9061);">AdMob by</div>
<div class="t" style="left:380.04px;top:857.27px;font-size:9.6px;color:#fbe0df;transform:scaleX(0.9719);">Google</div>
<div class="t" style="left:419.33px;top:885.75px;font-size:32.9px;color:#c2c2c2;transform:scaleX(0.9639);-webkit-text-stroke:0.45px #c2c2c2;">CPU Monitor</div>
<div class="r" style="left:13px;top:922px;width:994px;height:258px;background:#444444;"></div>
<svg class="r" style="left:0;top:900px" width="1020" height="300" viewBox="0 900 1020 300"><clipPath id="mc1"><rect x="33" y="951.2" width="224" height="198.79999999999995"/></clipPath><rect x="32.5" y="950.6" width="225.4" height="199.39999999999995" fill="#2e2e34"/><rect x="33" y="951.2" width="224" height="198.79999999999995" fill="#e7e6d2"/><g clip-path="url(#mc1)"><rect x="78.15" y="951.2" width="1.2" height="198.79999999999995" fill="#9a9a9a"/><rect x="122.65" y="951.2" width="1.2" height="198.79999999999995" fill="#9a9a9a"/><rect x="167.4" y="951.2" width="1.2" height="198.79999999999995" fill="#9a9a9a"/><rect x="211.9" y="951.2" width="1.2" height="198.79999999999995" fill="#9a9a9a"/><rect x="33" y="990.9" width="224" height="1.2" fill="#9a9a9a"/><rect x="33" y="1030.7" width="224" height="1.2" fill="#9a9a9a"/><rect x="33" y="1070.7" width="224" height="1.2" fill="#9a9a9a"/><rect x="33" y="1110.6000000000001" width="224" height="1.2" fill="#9a9a9a"/><path d="M30.8,1112.85 42.9,1112.85 42.9,1119.15 30.8,1119.15ZM38.5,1112.85 42.9,1112.85 57.9,1145.35 57.9,1151.65 53.5,1151.65 38.5,1119.15ZM53.5,1145.35 62.1,1112.85 66.5,1112.85 66.5,1119.15 57.9,1151.65 53.5,1151.65ZM62.1,1112.85 66.5,1112.85 70.8,1119.35 70.8,1125.65 66.4,1125.65 62.1,1119.15ZM66.4,1119.35 74.7,1119.35 74.7,1125.65 66.4,1125.65ZM70.3,1119.35 74.7,1119.35 81.3,1135.35 81.3,1141.65 76.9,1141.65 70.3,1125.65ZM76.9,1135.35 94.5,1135.35 94.5,1141.65 76.9,1141.65ZM90.1,1135.35 94.5,1135.35 94.5,1144.65 90.1,1144.65ZM76.9,1138.35 94.5,1138.35 94.5,1144.65 76.9,1144.65ZM76.9,1138.35 94.5,1138.35 94.5,1144.65 76.9,1144.65ZM90.1,1138.35 97.8,1112.85 102.2,1112.85 102.2,1119.15 94.5,1144.65 90.1,1144.65ZM97.8,1112.85 102.2,1112.85 107.7,1129.35 107.7,1135.65 103.3,1135.65 97.8,1119.15ZM103.3,1129.35 109.3,1119.35 113.7,1119.35 113.7,1125.65 107.7,1135.65 103.3,1135.65ZM109.3,1119.35 113.7,1119.35 119.2,1128.45 119.2,1134.75 114.8,1134.75 109.3,1125.65ZM114.8,1128.45 118.37,1028.25 122.77,1028.25 122.77,1034.55 119.2,1134.75 114.8,1134.75ZM118.37,1028.25 122.77,1028.25 125.4,1046.85 125.4,1053.15 121,1053.15 118.37,1034.55ZM121,1046.85 125.4,1046.85 128.8,1121.85 128.8,1128.15 124.4,1128.15 121,1053.15ZM124.4,1121.85 128.8,1121.85 129.2,1138.35 129.2,1144.65 124.8,1144.65 124.4,1128.15ZM124.8,1138.35 128.3,1128.75 132.7,1128.75 132.7,1135.05 129.2,1144.65 124.8,1144.65ZM128.3,1128.75 138.5,1128.75 138.5,1135.05 128.3,1135.05ZM134.1,1128.75 138.5,1128.75 141.7,1138.35 141.7,1144.65 137.3,1144.65 134.1,1135.05ZM137.3,1138.35 145,1121.85 149.4,1121.85 149.4,1128.15 141.7,1144.65 137.3,1144.65ZM145,1121.85 146.1,1039.2 150.5,1039.2 150.5,1045.5 149.4,1128.15 145,1128.15ZM146.1,1039.2 153.2,1039.2 153.2,1045.5 146.1,1045.5ZM148.8,1039.2 153.2,1039.2 156,1121.85 156,1128.15 151.6,1128.15 148.8,1045.5ZM151.6,1121.85 156,1121.85 157.2,1128.45 157.2,1134.75 152.8,1134.75 151.6,1128.15ZM152.8,1128.45 162.7,1128.45 162.7,1134.75 152.8,1134.75ZM158.3,1128.45 162,1119.35 166.4,1119.35 166.4,1125.65 162.7,1134.75 158.3,1134.75ZM162,1119.35 166.4,1119.35 175.2,1145.35 175.2,1151.65 170.8,1151.65 162,1125.65ZM170.8,1145.35 177.9,1126.5 182.3,1126.5 182.3,1132.8 175.2,1151.65 170.8,1151.65ZM177.9,1126.5 184.5,1126.5 184.5,1132.8 177.9,1132.8ZM180.1,1126.5 184.5,1126.5 188.4,1138.35 188.4,1144.65 184,1144.65 180.1,1132.8ZM184,1138.35 189.5,1119.35 193.9,1119.35 193.9,1125.65 188.4,1144.65 184,1144.65ZM189.5,1119.35 193.9,1119.35 198.8,1128.85 198.8,1135.15 194.4,1135.15 189.5,1125.65ZM194.4,1128.85 201,1112.85 205.4,1112.85 205.4,1119.15 198.8,1135.15 194.4,1135.15ZM201,1112.85 217.5,1112.85 217.5,1119.15 201,1119.15ZM213.1,1112.85 217.5,1112.85 223,1131.75 223,1138.05 218.6,1138.05 213.1,1119.15ZM218.6,1131.75 222.4,1116.85 226.8,1116.85 226.8,1123.15 223,1138.05 218.6,1138.05ZM222.4,1116.85 225.45,1021.1 229.85,1021.1 229.85,1027.4 226.8,1123.15 222.4,1123.15ZM225.45,1021.1 229.85,1021.1 232.8,1038.85 232.8,1045.15 228.4,1045.15 225.45,1027.4ZM228.4,1038.85 232.8,1038.85 233.9,1076.85 233.9,1083.15 229.5,1083.15 228.4,1045.15ZM229.5,1076.85 233.9,1076.85 235.6,1121.85 235.6,1128.15 231.2,1128.15 229.5,1083.15ZM231.2,1121.85 235.6,1121.85 241.1,1145.35 241.1,1151.65 236.7,1151.65 231.2,1128.15ZM236.7,1145.35 244.4,1128.75 248.8,1128.75 248.8,1135.05 241.1,1151.65 236.7,1151.65ZM244.4,1128.75 259.2,1128.75 259.2,1135.05 244.4,1135.05Z" fill="#14780f"/></g><clipPath id="mc2"><rect x="276.25" y="951.2" width="224" height="198.79999999999995"/></clipPath><rect x="275.75" y="950.6" width="225.4" height="199.39999999999995" fill="#2e2e34"/><rect x="276.25" y="951.2" width="224" height="198.79999999999995" fill="#e7e6d2"/><g clip-path="url(#mc2)"><rect x="321.15" y="951.2" width="1.2" height="198.79999999999995" fill="#9a9a9a"/><rect x="365.9" y="951.2" width="1.2" height="198.79999999999995" fill="#9a9a9a"/><rect x="410.65" y="951.2" width="1.2" height="198.79999999999995" fill="#9a9a9a"/><rect x="455.15" y="951.2" width="1.2" height="198.79999999999995" fill="#9a9a9a"/><rect x="276.25" y="990.9" width="224" height="1.2" fill="#9a9a9a"/><rect x="276.25" y="1030.7" width="224" height="1.2" fill="#9a9a9a"/><rect x="276.25" y="1070.7" width="224" height="1.2" fill="#9a9a9a"/><rect x="276.25" y="1110.6000000000001" width="224" height="1.2" fill="#9a9a9a"/><path d="M274.05,1123.85 278.45,1123.85 286.4,1138.35 286.4,1144.65 282,1144.65 274.05,1130.15ZM282,1138.35 289.2,1138.35 289.2,1144.65 282,1144.65ZM284.8,1138.35 289.2,1128.75 293.6,1128.75 293.6,1135.05 289.2,1144.65 284.8,1144.65ZM289.2,1128.75 298,1128.75 298,1135.05 289.2,1135.05ZM293.6,1128.75 298,1128.75 302.4,1138.35 302.4,1144.65 298,1144.65 293.6,1135.05ZM298,1138.35 305.6,1138.35 305.6,1144.65 298,1144.65ZM301.2,1138.35 305.6,1119.35 310,1119.35 310,1125.65 305.6,1144.65 301.2,1144.65ZM305.6,1119.35 310,1119.35 315.5,1129.15 315.5,1135.45 311.1,1135.45 305.6,1125.65ZM311.1,1129.15 317.2,1112.85 321.6,1112.85 321.6,1119.15 315.5,1135.45 311.1,1135.45ZM317.2,1112.85 326,1112.85 326,1119.15 317.2,1119.15ZM321.6,1112.85 326,1112.85 332,1128.75 332,1135.05 327.6,1135.05 321.6,1119.15ZM327.6,1128.75 346.3,1128.75 346.3,1135.05 327.6,1135.05ZM341.9,1128.75 348.5,1112.85 352.9,1112.85 352.9,1119.15 346.3,1135.05 341.9,1135.05ZM348.5,1112.85 357.8,1112.85 357.8,1119.15 348.5,1119.15ZM353.4,1112.85 357.8,1112.85 369.4,1138.35 369.4,1144.65 365,1144.65 353.4,1119.15ZM365,1138.35 373.7,1138.35 373.7,1144.65 365,1144.65ZM369.3,1138.35 372.1,1078.85 376.5,1078.85 376.5,1085.15 373.7,1144.65 369.3,1144.65ZM372.1,1078.85 373.2,1045.85 377.6,1045.85 377.6,1052.15 376.5,1085.15 372.1,1085.15ZM373.2,1045.85 374.3,1022.85 378.7,1022.85 378.7,1029.15 377.6,1052.15 373.2,1052.15ZM374.3,1022.85 375.4,1001.85 379.8,1001.85 379.8,1008.15 378.7,1029.15 374.3,1029.15ZM375.4,1001.85 376.5,975.85 380.9,975.85 380.9,982.15 379.8,1008.15 375.4,1008.15ZM376.5,975.85 381.1,965.9 385.5,965.9 385.5,972.2 380.9,982.15 376.5,982.15ZM381.1,965.9 385.5,965.9 385.8,971.85 385.8,978.15 381.4,978.15 381.1,972.2ZM381.4,971.85 385.8,971.85 386.9,990.85 386.9,997.15 382.5,997.15 381.4,978.15ZM382.5,990.85 386.9,990.85 388,1008.85 388,1015.15 383.6,1015.15 382.5,997.15ZM383.6,1008.85 388,1008.85 389.1,1026.85 389.1,1033.15 384.7,1033.15 383.6,1015.15ZM384.7,1026.85 389.1,1026.85 390.1,1050.75 390.1,1057.05 385.7,1057.05 384.7,1033.15ZM385.7,1050.75 393,1050.75 393,1057.05 385.7,1057.05ZM388.6,1030.2 393,1030.2 393,1057.05 388.6,1057.05ZM388.6,1030.2 396.8,1030.2 396.8,1036.5 388.6,1036.5ZM392.4,1030.2 396.8,1030.2 397.9,1060.85 397.9,1067.15 393.5,1067.15 392.4,1036.5ZM393.5,1060.85 397.9,1060.85 399,1085.85 399,1092.15 394.6,1092.15 393.5,1067.15ZM394.6,1085.85 399,1085.85 400.1,1109.85 400.1,1116.15 395.7,1116.15 394.6,1092.15ZM395.7,1109.85 400.1,1109.85 401.7,1124.85 401.7,1131.15 397.3,1131.15 395.7,1116.15ZM397.3,1124.85 401.7,1124.85 403.4,1138.35 403.4,1144.65 399,1144.65 397.3,1131.15ZM399,1138.35 401.3,1126.85 405.7,1126.85 405.7,1133.15 403.4,1144.65 399,1144.65ZM401.3,1126.85 402.8,1092.85 407.2,1092.85 407.2,1099.15 405.7,1133.15 401.3,1133.15ZM402.8,1092.85 405,1028.75 409.4,1028.75 409.4,1035.05 407.2,1099.15 402.8,1099.15ZM405,1028.75 408.3,1021.1 412.7,1021.1 412.7,1027.4 409.4,1035.05 405,1035.05ZM408.3,1021.1 412.7,1021.1 413.8,1054.85 413.8,1061.15 409.4,1061.15 408.3,1027.4ZM409.4,1054.85 413.8,1054.85 414.9,1086.85 414.9,1093.15 410.5,1093.15 409.4,1061.15ZM410.5,1086.85 414.9,1086.85 416,1118.85 416,1125.15 411.6,1125.15 410.5,1093.15ZM411.6,1118.85 416,1118.85 417.1,1131.75 417.1,1138.05 412.7,1138.05 411.6,1125.15ZM412.7,1131.75 414.3,1126.85 418.7,1126.85 418.7,1133.15 417.1,1138.05 412.7,1138.05ZM414.3,1126.85 416,1081.85 420.4,1081.85 420.4,1088.15 418.7,1133.15 414.3,1133.15ZM416,1081.85 417.1,1052.95 421.5,1052.95 421.5,1059.25 420.4,1088.15 416,1088.15ZM417.1,1052.95 419.84,1046.35 424.24,1046.35 424.24,1052.65 421.5,1059.25 417.1,1059.25ZM419.84,1046.35 424.24,1046.35 425.3,1074.85 425.3,1081.15 420.9,1081.15 419.84,1052.65ZM420.9,1074.85 425.3,1074.85 426.4,1094.85 426.4,1101.15 422,1101.15 420.9,1081.15ZM422,1094.85 426.4,1094.85 427.5,1111.85 427.5,1118.15 423.1,1118.15 422,1101.15ZM423.1,1111.85 427.5,1111.85 428.4,1129.05 428.4,1135.35 424,1135.35 423.1,1118.15ZM424,1129.05 428.1,1119.35 432.5,1119.35 432.5,1125.65 428.4,1135.35 424,1135.35ZM428.1,1119.35 432.5,1119.35 440.7,1145.35 440.7,1151.65 436.3,1151.65 428.1,1125.65ZM436.3,1145.35 445.1,1119.35 449.5,1119.35 449.5,1125.65 440.7,1151.65 436.3,1151.65ZM445.1,1119.35 452.2,1119.35 452.2,1125.65 445.1,1125.65ZM447.8,1119.35 452.2,1119.35 456.1,1129.05 456.1,1135.35 451.7,1135.35 447.8,1125.65ZM451.7,1129.05 453.9,1111.85 458.3,1111.85 458.3,1118.15 456.1,1135.35 451.7,1135.35ZM453.9,1111.85 455,1094.85 459.4,1094.85 459.4,1101.15 458.3,1118.15 453.9,1118.15ZM455,1094.85 456.1,1046.35 460.5,1046.35 460.5,1052.65 459.4,1101.15 455,1101.15ZM456.1,1046.35 459.9,1039.2 464.3,1039.2 464.3,1045.5 460.5,1052.65 456.1,1052.65ZM459.9,1039.2 464.3,1039.2 465.4,1065.85 465.4,1072.15 461,1072.15 459.9,1045.5ZM461,1065.85 465.4,1065.85 466.5,1086.85 466.5,1093.15 462.1,1093.15 461,1072.15ZM462.1,1086.85 466.5,1086.85 467.1,1111.85 467.1,1118.15 462.7,1118.15 462.1,1093.15ZM462.7,1111.85 467.1,1111.85 468.4,1122.4 468.4,1128.7 464,1128.7 462.7,1118.15ZM464,1122.4 465.8,1106.85 470.2,1106.85 470.2,1113.15 468.4,1128.7 464,1128.7ZM465.8,1106.85 467.1,1072.85 471.5,1072.85 471.5,1079.15 470.2,1113.15 465.8,1113.15ZM467.1,1072.85 468.7,1046.35 473.1,1046.35 473.1,1052.65 471.5,1079.15 467.1,1079.15ZM468.7,1046.35 475.8,1046.35 475.8,1052.65 468.7,1052.65ZM471.4,1046.35 475.8,1046.35 476.9,1072.85 476.9,1079.15 472.5,1079.15 471.4,1052.65ZM472.5,1072.85 476.9,1072.85 478,1092.85 478,1099.15 473.6,1099.15 472.5,1079.15ZM473.6,1092.85 478,1092.85 479.1,1106.85 479.1,1113.15 474.7,1113.15 473.6,1099.15ZM474.7,1106.85 479.1,1106.85 479.7,1122.4 479.7,1128.7 475.3,1128.7 474.7,1113.15ZM475.3,1122.4 479.1,1112.85 483.5,1112.85 483.5,1119.15 479.7,1128.7 475.3,1128.7ZM479.1,1112.85 488.5,1112.85 488.5,1119.15 479.1,1119.15ZM484.1,1112.85 488.5,1112.85 495.1,1128.75 495.1,1135.05 490.7,1135.05 484.1,1119.15ZM490.7,1128.75 502.45,1128.75 502.45,1135.05 490.7,1135.05Z" fill="#14780f"/></g><clipPath id="mc3"><rect x="520" y="951.2" width="224" height="198.79999999999995"/></clipPath><rect x="519.5" y="950.6" width="225.4" height="199.39999999999995" fill="#2e2e34"/><rect x="520" y="951.2" width="224" height="198.79999999999995" fill="#e7e6d2"/><g clip-path="url(#mc3)"><rect x="564.65" y="951.2" width="1.2" height="198.79999999999995" fill="#9a9a9a"/><rect x="609.15" y="951.2" width="1.2" height="198.79999999999995" fill="#9a9a9a"/><rect x="653.9" y="951.2" width="1.2" height="198.79999999999995" fill="#9a9a9a"/><rect x="698.65" y="951.2" width="1.2" height="198.79999999999995" fill="#9a9a9a"/><rect x="520" y="990.9" width="224" height="1.2" fill="#9a9a9a"/><rect x="520" y="1030.7" width="224" height="1.2" fill="#9a9a9a"/><rect x="520" y="1070.7" width="224" height="1.2" fill="#9a9a9a"/><rect x="520" y="1110.6000000000001" width="224" height="1.2" fill="#9a9a9a"/><rect x="520" y="1144.5" width="224" height="6.5" fill="#14780f"/></g><clipPath id="mc4"><rect x="763" y="951.2" width="224" height="198.79999999999995"/></clipPath><rect x="762.5" y="950.6" width="225.4" height="199.39999999999995" fill="#2e2e34"/><rect x="763" y="951.2" width="224" height="198.79999999999995" fill="#e7e6d2"/><g clip-path="url(#mc4)"><rect x="807.9" y="951.2" width="1.2" height="198.79999999999995" fill="#9a9a9a"/><rect x="852.4" y="951.2" width="1.2" height="198.79999999999995" fill="#9a9a9a"/><rect x="897.15" y="951.2" width="1.2" height="198.79999999999995" fill="#9a9a9a"/><rect x="941.9" y="951.2" width="1.2" height="198.79999999999995" fill="#9a9a9a"/><rect x="763" y="990.9" width="224" height="1.2" fill="#9a9a9a"/><rect x="763" y="1030.7" width="224" height="1.2" fill="#9a9a9a"/><rect x="763" y="1070.7" width="224" height="1.2" fill="#9a9a9a"/><rect x="763" y="1110.6000000000001" width="224" height="1.2" fill="#9a9a9a"/><path d="M760.8,1117.85 765.2,1117.85 771.8,1128.45 771.8,1134.75 767.4,1134.75 760.8,1124.15ZM767.4,1128.45 777.3,1128.45 777.3,1134.75 767.4,1134.75ZM772.9,1128.45 776.4,1119.35 780.8,1119.35 780.8,1125.65 777.3,1134.75 772.9,1134.75ZM776.4,1119.35 780.8,1119.35 787.9,1145.35 787.9,1151.65 783.5,1151.65 776.4,1125.65ZM783.5,1145.35 788.3,1126.5 792.7,1126.5 792.7,1132.8 787.9,1151.65 783.5,1151.65ZM788.3,1126.5 795.9,1126.5 795.9,1132.8 788.3,1132.8ZM791.5,1126.5 795.9,1126.5 800.3,1145.35 800.3,1151.65 795.9,1151.65 791.5,1132.8ZM795.9,1145.35 802.3,1128.85 806.7,1128.85 806.7,1135.15 800.3,1151.65 795.9,1151.65ZM802.3,1128.85 805.3,1103.85 809.7,1103.85 809.7,1110.15 806.7,1135.15 802.3,1135.15ZM805.3,1103.85 806.4,1077.85 810.8,1077.85 810.8,1084.15 809.7,1110.15 805.3,1110.15ZM806.4,1077.85 807.5,1052.85 811.9,1052.85 811.9,1059.15 810.8,1084.15 806.4,1084.15ZM807.5,1052.85 808.6,1021.1 813,1021.1 813,1027.4 811.9,1059.15 807.5,1059.15ZM808.6,1021.1 815.7,1021.1 815.7,1027.4 808.6,1027.4ZM811.3,1021.1 815.7,1021.1 816.8,1052.85 816.8,1059.15 812.4,1059.15 811.3,1027.4ZM812.4,1052.85 816.8,1052.85 817.9,1078.85 817.9,1085.15 813.5,1085.15 812.4,1059.15ZM813.5,1078.85 817.9,1078.85 819,1109.85 819,1116.15 814.6,1116.15 813.5,1085.15ZM814.6,1109.85 819,1109.85 820.1,1122.4 820.1,1128.7 815.7,1128.7 814.6,1116.15ZM815.7,1122.4 817.3,1111.85 821.7,1111.85 821.7,1118.15 820.1,1128.7 815.7,1128.7ZM817.3,1111.85 819,1072.85 823.4,1072.85 823.4,1079.15 821.7,1118.15 817.3,1118.15ZM819,1072.85 820.1,1046.35 824.5,1046.35 824.5,1052.65 823.4,1079.15 819,1079.15ZM820.1,1046.35 823.3,1039.2 827.7,1039.2 827.7,1045.5 824.5,1052.65 820.1,1052.65ZM823.3,1039.2 827.7,1039.2 828.9,1065.85 828.9,1072.15 824.5,1072.15 823.3,1045.5ZM824.5,1065.85 828.9,1065.85 830,1085.85 830,1092.15 825.6,1092.15 824.5,1072.15ZM825.6,1085.85 830,1085.85 830.5,1105.85 830.5,1112.15 826.1,1112.15 825.6,1092.15ZM826.1,1105.85 830.5,1105.85 831.1,1122.4 831.1,1128.7 826.7,1128.7 826.1,1112.15ZM826.7,1122.4 835.5,1122.4 835.5,1128.7 826.7,1128.7ZM831.1,1122.4 835.5,1112.85 839.9,1112.85 839.9,1119.15 835.5,1128.7 831.1,1128.7ZM835.5,1112.85 844.3,1112.85 844.3,1119.15 835.5,1119.15ZM839.9,1112.85 844.3,1112.85 851.95,1135.35 851.95,1141.65 847.55,1141.65 839.9,1119.15ZM847.55,1135.35 872.8,1135.35 872.8,1141.65 847.55,1141.65ZM868.4,1135.35 872.8,1135.35 872.8,1144.65 868.4,1144.65ZM847.55,1138.35 872.8,1138.35 872.8,1144.65 847.55,1144.65ZM847.55,1138.35 872.8,1138.35 872.8,1144.65 847.55,1144.65ZM868.4,1138.35 879.4,1112.85 883.8,1112.85 883.8,1119.15 872.8,1144.65 868.4,1144.65ZM879.4,1112.85 883.8,1112.85 895.9,1145.35 895.9,1151.65 891.5,1151.65 879.4,1119.15ZM891.5,1145.35 896.4,1110.85 900.8,1110.85 900.8,1117.15 895.9,1151.65 891.5,1151.65ZM896.4,1110.85 897.5,1081.85 901.9,1081.85 901.9,1088.15 900.8,1117.15 896.4,1117.15ZM897.5,1081.85 898.6,1054.85 903,1054.85 903,1061.15 901.9,1088.15 897.5,1088.15ZM898.6,1054.85 899.5,1021.1 903.9,1021.1 903.9,1027.4 903,1061.15 898.6,1061.15ZM899.5,1021.1 903.9,1021.1 905.7,1030.85 905.7,1037.15 901.3,1037.15 899.5,1027.4ZM901.3,1030.85 905.7,1030.85 906.8,1045.85 906.8,1052.15 902.4,1052.15 901.3,1037.15ZM902.4,1045.85 906.8,1045.85 907.9,1071.85 907.9,1078.15 903.5,1078.15 902.4,1052.15ZM903.5,1071.85 907.9,1071.85 909,1097.85 909,1104.15 904.6,1104.15 903.5,1078.15ZM904.6,1097.85 909,1097.85 910.1,1120.85 910.1,1127.15 905.7,1127.15 904.6,1104.15ZM905.7,1120.85 910.1,1120.85 910.4,1135.35 910.4,1141.65 906,1141.65 905.7,1127.15ZM906,1135.35 920,1135.35 920,1141.65 906,1141.65ZM915.6,1135.35 920,1135.35 920,1144.65 915.6,1144.65ZM906,1138.35 920,1138.35 920,1144.65 906,1144.65ZM906,1138.35 920,1138.35 920,1144.65 906,1144.65ZM915.6,1138.35 922.2,1112.85 926.6,1112.85 926.6,1119.15 920,1144.65 915.6,1144.65ZM922.2,1112.85 928.8,1112.85 928.8,1119.15 922.2,1119.15ZM924.4,1112.85 928.8,1112.85 932.1,1131.75 932.1,1138.05 927.7,1138.05 924.4,1119.15ZM927.7,1131.75 928.8,1097.85 933.2,1097.85 933.2,1104.15 932.1,1138.05 927.7,1138.05ZM928.8,1097.85 929.9,1075.85 934.3,1075.85 934.3,1082.15 933.2,1104.15 928.8,1104.15ZM929.9,1075.85 931,1044.15 935.4,1044.15 935.4,1050.45 934.3,1082.15 929.9,1082.15ZM931,1044.15 934.4,1037.05 938.8,1037.05 938.8,1043.35 935.4,1050.45 931,1050.45ZM934.4,1037.05 938.8,1037.05 939.8,1069.85 939.8,1076.15 935.4,1076.15 934.4,1043.35ZM935.4,1069.85 939.8,1069.85 940.9,1095.85 940.9,1102.15 936.5,1102.15 935.4,1076.15ZM936.5,1095.85 940.9,1095.85 941.8,1119.85 941.8,1126.15 937.4,1126.15 936.5,1102.15ZM937.4,1119.85 941.8,1119.85 946.9,1145.35 946.9,1151.65 942.5,1151.65 937.4,1126.15ZM942.5,1145.35 948,1110.85 952.4,1110.85 952.4,1117.15 946.9,1151.65 942.5,1151.65ZM948,1110.85 949.1,1081.85 953.5,1081.85 953.5,1088.15 952.4,1117.15 948,1117.15ZM949.1,1081.85 950.2,1054.85 954.6,1054.85 954.6,1061.15 953.5,1088.15 949.1,1088.15ZM950.2,1054.85 951.1,1024.85 955.5,1024.85 955.5,1031.15 954.6,1061.15 950.2,1061.15ZM951.1,1024.85 953,983.85 957.4,983.85 957.4,990.15 955.5,1031.15 951.1,1031.15ZM953,983.85 954.8,941.85 959.2,941.85 959.2,948.15 957.4,990.15 953,990.15ZM954.8,941.85 959.2,941.85 960.9,985.85 960.9,992.15 956.5,992.15 954.8,948.15ZM956.5,985.85 960.9,985.85 962.1,1011.85 962.1,1018.15 957.7,1018.15 956.5,992.15ZM957.7,1011.85 962.1,1011.85 962.8,1036.85 962.8,1043.15 958.4,1043.15 957.7,1018.15ZM958.4,1036.85 962.8,1036.85 963.9,1062.85 963.9,1069.15 959.5,1069.15 958.4,1043.15ZM959.5,1062.85 963.9,1062.85 965,1088.85 965,1095.15 960.6,1095.15 959.5,1069.15ZM960.6,1088.85 965,1088.85 966.1,1113.85 966.1,1120.15 961.7,1120.15 960.6,1095.15ZM961.7,1113.85 966.1,1113.85 970.5,1138.35 970.5,1144.65 966.1,1144.65 961.7,1120.15ZM966.1,1138.35 972.7,1138.35 972.7,1144.65 966.1,1144.65ZM968.3,1138.35 974.6,1112.85 979,1112.85 979,1119.15 972.7,1144.65 968.3,1144.65ZM974.6,1112.85 979,1112.85 987.2,1128.75 987.2,1135.05 982.8,1135.05 974.6,1119.15ZM982.8,1128.75 989.2,1128.75 989.2,1135.05 982.8,1135.05Z" fill="#14780f"/></g></svg>
<div class="t" style="left:35.42px;top:923.44px;font-size:30.2px;color:#20c022;transform:scaleX(0.9636);-webkit-text-stroke:1.2px #20c022;">0.10GHz</div>
<div class="t" style="left:278.92px;top:923.44px;font-size:30.2px;color:#20c022;transform:scaleX(0.9636);-webkit-text-stroke:1.2px #20c022;">0.10GHz</div>
<div class="t" style="left:522.48px;top:923.44px;font-size:30.2px;color:#20c022;transform:scaleX(0.8895);-webkit-text-stroke:1.2px #20c022;">OFFLINE</div>
<div class="t" style="left:765.42px;top:923.44px;font-size:30.2px;color:#20c022;transform:scaleX(0.9610);-webkit-text-stroke:1.2px #20c022;">0.10GHz</div>
<div class="t" style="left:14.40px;top:1151.44px;font-size:30.2px;color:#20c022;transform:scaleX(0.9271);-webkit-text-stroke:1.2px #20c022;">MAX CPU CLOCK:1.20GHz</div>
<div class="t" style="left:21.81px;top:1191.01px;font-size:27.4px;color:#c2c2c2;transform:scaleX(0.9375);-webkit-text-stroke:0.45px #c2c2c2;">For accurate results before starting test make sure the phone is cold and no programs</div>
<div class="t" style="left:41.65px;top:1220.81px;font-size:27.4px;color:#c2c2c2;transform:scaleX(0.9317);-webkit-text-stroke:0.45px #c2c2c2;">are running in the background. For CPU throttling test use at least 2 times cpu core</div>
<div class="t" style="left:54.64px;top:1250.81px;font-size:27.4px;color:#c2c2c2;transform:scaleX(0.9392);-webkit-text-stroke:0.45px #c2c2c2;">count for number of threads (during test cpu utilization should be near or 100%).</div>
<div class="t" style="left:56.70px;top:1280.51px;font-size:27.4px;color:#c2c2c2;transform:scaleX(0.9431);-webkit-text-stroke:0.45px #c2c2c2;">At least 5min are necessary for processor thermal throttling analysis. Phone will</div>
<div class="t" style="left:305.53px;top:1310.61px;font-size:27.4px;color:#c2c2c2;transform:scaleX(0.9461);-webkit-text-stroke:0.45px #c2c2c2;">heat up during testing this is normal</div>
<div class="r" style="left:0px;top:1571px;width:1020px;height:61px;background:#000;"></div>
<svg class="r" style="left:0;top:1571px" width="1020" height="61" viewBox="0 1571 1020 61"><path d="M355.5 1591.3 V1611.7 L338.5 1601.5 Z" fill="#fff" stroke="#fff" stroke-width="1.5" stroke-linejoin="round"/><circle cx="510" cy="1601.5" r="10.3" fill="#fff"/><rect x="663.5" y="1592" width="19" height="19" rx="1.5" fill="#fff"/></svg>
</body></html>
